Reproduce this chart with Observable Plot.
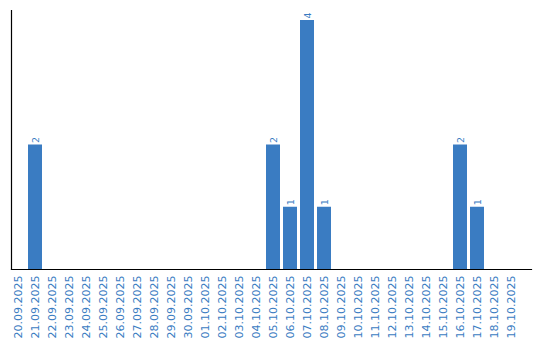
<!DOCTYPE html>
<html>
<head>
<meta charset="utf-8">
<script src="https://cdn.jsdelivr.net/npm/d3@7"></script>
<script src="https://cdn.jsdelivr.net/npm/@observablehq/plot@0.6"></script>
<style>
  html, body { margin: 0; padding: 0; background: #fff; }
  #chart svg { display: block; }
</style>
</head>
<body>
<div id="chart"></div>
<script>
const dates = [
  "20.09.2025","21.09.2025","22.09.2025","23.09.2025","24.09.2025","25.09.2025",
  "26.09.2025","27.09.2025","28.09.2025","29.09.2025","30.09.2025","01.10.2025",
  "02.10.2025","03.10.2025","04.10.2025","05.10.2025","06.10.2025","07.10.2025",
  "08.10.2025","09.10.2025","10.10.2025","11.10.2025","12.10.2025","13.10.2025",
  "14.10.2025","15.10.2025","16.10.2025","17.10.2025","18.10.2025","19.10.2025"
];
const counts = [
  0,2,0,0,0,0,
  0,0,0,0,0,0,
  0,0,0,2,1,4,
  1,0,0,0,0,0,
  0,0,2,1,0,0
];
const blue = "#3a7cc2";
const data = dates.map((d, i) => ({date: d, count: counts[i]}));
const nonZero = data.filter(d => d.count > 0);

const chart = Plot.plot({
  width: 540,
  height: 340,
  marginLeft: 11,
  marginRight: 9,
  marginTop: 10,
  marginBottom: 71,
  style: {fontFamily: "DejaVu Sans, Verdana, sans-serif", background: "#fff"},
  x: {domain: dates, paddingInner: 0.176, paddingOuter: 0.382, align: 0, label: null},
  y: {domain: [0, 4], insetTop: 10, axis: null},
  marks: [
    Plot.barY(nonZero, {x: "date", y: "count", fill: blue}),
    Plot.text(nonZero, {x: "date", y: "count", text: d => String(d.count), rotate: -90,
      textAnchor: "start", dy: -2, fill: blue, fontSize: 9.5}),
    Plot.axisX({tickRotate: -90, tickSize: 0, tickPadding: 6, fill: blue, fontSize: 11, label: null}),
    Plot.frame({anchor: "left", stroke: "#000", strokeWidth: 1.2}),
    Plot.frame({anchor: "bottom", stroke: "#000", strokeWidth: 1.2})
  ]
});
document.getElementById("chart").appendChild(chart);
</script>
</body>
</html>
